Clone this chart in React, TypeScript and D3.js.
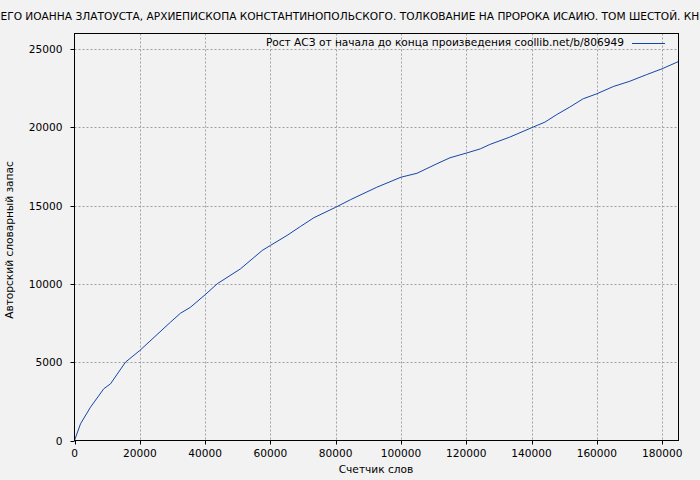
import React, { useLayoutEffect, useRef, useState } from "react";
import * as d3 from "d3";

const TITLE_PREFIX = "ТВОРЕНИЯ СВЯТОГО ОТЦА НАШ";
const TITLE =
  "ТВОРЕНИЯ СВЯТОГО ОТЦА НАШЕГО ИОАННА ЗЛАТОУСТА, АРХИЕПИСКОПА КОНСТАНТИНОПОЛЬСКОГО. ТОЛКОВАНИЕ НА ПРОРОКА ИСАИЮ. ТОМ ШЕСТОЙ. КНИГА ПЕРВАЯ";
const LEGEND = "Рост АСЗ от начала до конца произведения coollib.net/b/806949";
const X_LABEL = "Счетчик слов";
const Y_LABEL = "Авторский словарный запас";

const wordCount = [
  0, 1840, 4900, 8970, 11030, 15620, 20000, 29400, 32460, 35500, 40000, 43700,
  50800, 57500, 60000, 65100, 69200, 73300, 80000, 84500, 92600, 100000, 104900,
  111000, 115000, 120000, 124300, 127200, 133300, 140000, 144100, 147700, 151700,
  155800, 160000, 165000, 170100, 175200, 180000, 185000,
];
const vocabulary = [
  0, 1065, 2130, 3305, 3620, 5005, 5750, 7560, 8130, 8510, 9310, 10010, 10960,
  12140, 12460, 13100, 13670, 14230, 14900, 15380, 16180, 16820, 17070, 17680,
  18060, 18360, 18630, 18910, 19380, 19980, 20340, 20820, 21300, 21830, 22150,
  22610, 22950, 23370, 23750, 24210,
];
const xTicks = [0, 20000, 40000, 60000, 80000, 100000, 120000, 140000, 160000, 180000];
const yTicks = [0, 5000, 10000, 15000, 20000, 25000];

const W = 700;
const H = 480;
const M = { left: 74.5, right: 678.5, top: 33.5, bottom: 440.5 };
const FONT = "DejaVu Sans, Verdana, sans-serif";
const FS = 10.6;

export default function App() {
  const svgRef = useRef<SVGSVGElement>(null);
  const [titleX, setTitleX] = useState(-150);

  useLayoutEffect(() => {
    const svg = svgRef.current;
    if (!svg) return;
    const t = document.createElementNS("http://www.w3.org/2000/svg", "text");
    t.setAttribute("font-family", FONT);
    t.setAttribute("font-size", String(FS));
    t.textContent = TITLE_PREFIX;
    svg.appendChild(t);
    const w = t.getComputedTextLength();
    svg.removeChild(t);
    setTitleX(-w + 0.5);
  }, []);

  const x = d3.scaleLinear().domain([0, d3.max(wordCount) as number]).range([M.left, M.right]);
  const y = d3.scaleLinear().domain([0, 26000]).range([M.bottom, M.top]);
  const points = wordCount.map((w, i) => [w, vocabulary[i]] as [number, number]);
  const line = d3
    .line<[number, number]>()
    .x((d) => x(d[0]))
    .y((d) => y(d[1]));

  const grid = "#a0a0a0";
  const blue = "#1446a8";

  return (
    <svg
      ref={svgRef}
      width={W}
      height={H}
      style={{ position: "absolute", left: 0, top: 0, display: "block" }}
      fontFamily={FONT}
      fontSize={FS}
    >
      <rect x={0} y={0} width={W} height={H} fill="#f2f2f2" />
      {xTicks.slice(1).map((t) => (
        <line
          key={"gx" + t}
          x1={Math.round(x(t)) + 0.5}
          x2={Math.round(x(t)) + 0.5}
          y1={M.top}
          y2={M.bottom}
          stroke={grid}
          strokeDasharray="2,2"
        />
      ))}
      {yTicks.slice(1).map((t) => (
        <line
          key={"gy" + t}
          x1={M.left}
          x2={M.right}
          y1={Math.round(y(t)) + 0.5}
          y2={Math.round(y(t)) + 0.5}
          stroke={grid}
          strokeDasharray="2,2"
        />
      ))}
      <path d={line(points) || ""} fill="none" stroke={blue} strokeWidth={1} />
      <rect
        x={M.left}
        y={M.top}
        width={M.right - M.left}
        height={M.bottom - M.top}
        fill="none"
        stroke="#000"
        strokeWidth={1}
      />
      {xTicks.map((t) => (
        <g key={"xt" + t}>
          <line
            x1={Math.round(x(t)) + 0.5}
            x2={Math.round(x(t)) + 0.5}
            y1={M.bottom}
            y2={M.bottom + 4}
            stroke="#000"
          />
          <text x={x(t)} y={457} textAnchor="middle" fill="#000">
            {t}
          </text>
        </g>
      ))}
      {yTicks.map((t) => (
        <g key={"yt" + t}>
          <line
            x1={M.left - 4}
            x2={M.left}
            y1={Math.round(y(t)) + 0.5}
            y2={Math.round(y(t)) + 0.5}
            stroke="#000"
          />
          <text x={62.5} y={y(t) + 4} textAnchor="end" fill="#000">
            {t}
          </text>
        </g>
      ))}
      <text x={376} y={473} textAnchor="middle" fill="#000">
        {X_LABEL}
      </text>
      <text transform={`translate(12.5,240) rotate(-90)`} textAnchor="middle" fill="#000">
        {Y_LABEL}
      </text>
      <text x={titleX} y={20} fill="#000">
        {TITLE}
      </text>
      <text x={624} y={46} textAnchor="end" fill="#000">
        {LEGEND}
      </text>
      <line x1={632} x2={665} y1={43.5} y2={43.5} stroke={blue} strokeWidth={1} />
    </svg>
  );
}
